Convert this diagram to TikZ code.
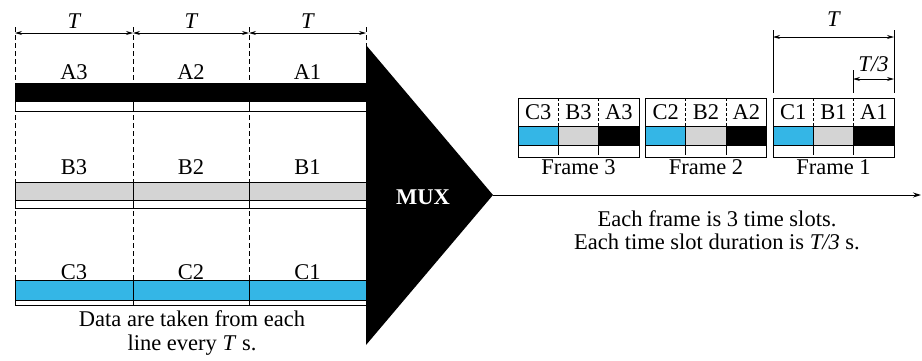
\documentclass[tikz,border=0pt]{standalone}
\usepackage{fontspec}
\setmainfont{Liberation Serif}
\usetikzlibrary{arrows.meta}
\definecolor{cyanbar}{RGB}{52,182,230}
\definecolor{greybar}{RGB}{212,212,212}
\begin{document}
\begin{tikzpicture}[x=1pt,y=-1pt,
  txt/.style={font=\fontsize{22.5}{23.5}\selectfont, inner sep=0pt},
  itx/.style={font=\fontsize{22.5}{23.5}\selectfont\itshape, inner sep=0pt},
  dimarrow/.style={{Stealth[length=7pt,width=4pt]}-{Stealth[length=7pt,width=4pt]}, line width=0.8pt},
  vdash/.style={dash pattern=on 5pt off 3pt, line width=0.9pt},
  sdash/.style={dash pattern=on 3pt off 2pt, line width=0.8pt},
  outline/.style={line width=1pt}]
\useasboundingbox (0,0) rectangle (922,360);

% ---------- input lines ----------
\foreach \n/\x in {0/15, 1/133, 2/249, 3/366} {
  \coordinate (c\n t) at (\x,27);
  \coordinate (c\n a) at (\x,33);
  \coordinate (c\n b) at (\x,305);
}
\foreach \n in {0,1,2,3} \draw[vdash] (c\n t) -- (c\n b);
\foreach \a/\b in {0/1, 1/2, 2/3} \draw[dimarrow] (c\a a) -- (c\b a);
\node[itx] (t1) at (74,21) {T};
\node[itx] (t2) at (191,21) {T};
\node[itx] (t3) at (307.5,21) {T};

% A line
\fill[white] (15,83) rectangle (366,111);
\fill[black] (15,83) rectangle (366,102);
\draw[outline] (15,83) rectangle (366,111);
% B line
\fill[white] (15,182) rectangle (366,208);
\draw[outline, fill=greybar] (15,182) rectangle (366,200);
\draw[outline] (15,182) rectangle (366,208);
% C line
\fill[white] (15,280) rectangle (366,305);
\draw[outline, fill=cyanbar] (15,280) rectangle (366,300);
\draw[outline] (15,280) rectangle (366,305);
\foreach \x in {133,249} {
  \draw[outline] (\x,83) -- (\x,111);
  \draw[outline] (\x,182) -- (\x,208);
  \draw[outline] (\x,280) -- (\x,305);
}

\foreach \r/\y in {A/72, B/167, C/272} {
  \node[txt] (\r3) at (74,\y) {\r3};
  \node[txt] (\r2) at (191,\y) {\r2};
  \node[txt] (\r1) at (307.5,\y) {\r1};
}

\node[txt, align=center] (datacap) at (192,333) {Data are taken from each\\line every \textit{T} s.};

% ---------- MUX ----------
\coordinate (mtop) at (366,45);
\coordinate (apex) at (493,195);
\coordinate (mbot) at (366,345);
\fill[black] (mtop) -- (apex) -- (mbot) -- cycle;
\node[txt, font=\fontsize{22.5}{24}\selectfont\bfseries, text=white] (mux) at (423,197) {MUX};

% ---------- output ----------
\coordinate (outend) at (921,195);
\draw[line width=1pt, -{Stealth[length=8pt,width=5pt]}] (apex) -- (outend);

\foreach \i/\x in {3/518, 2/645.5, 1/773} {
  \begin{scope}[shift={(\x,0)}]
    \fill[white] (0,98) rectangle (121,157);
    \fill[cyanbar] (0,126) rectangle (40.33,145);
    \fill[greybar] (40.33,126) rectangle (80.67,145);
    \fill[black] (80.67,126) rectangle (121,145);
    \draw[outline] (0,126) -- (121,126);
    \draw[outline] (0,145) -- (121,145);
    \draw[outline] (0,98) rectangle (121,157);
    \foreach \s in {40.33,80.67} {
      \draw[sdash] (\s,98) -- (\s,126);
      \draw[outline] (\s,126) -- (\s,155);
    }
    \node[txt] (fc\i) at (20.17,112) {C\i};
    \node[txt] (fb\i) at (60.5,112) {B\i};
    \node[txt] (fa\i) at (100.83,112) {A\i};
    \node[txt] (frame\i) at (60.5,167) {Frame \i};
  \end{scope}
}

% T and T/3 dimensions
\coordinate (d1t) at (773,30); \coordinate (d1b) at (773,93);
\coordinate (d2t) at (894,30); \coordinate (d2b) at (894,93);
\coordinate (d3t) at (853,70); \coordinate (d3b) at (853,93);
\draw[line width=0.9pt] (d1t) -- (d1b) (d2t) -- (d2b) (d3t) -- (d3b);
\coordinate (ta) at (773,37); \coordinate (tb) at (894,37);
\draw[dimarrow] (ta) -- (tb);
\coordinate (sa) at (853,79); \coordinate (sb) at (894,79);
\draw[dimarrow] (sa) -- (sb);
\node[itx] (tT) at (833.5,19) {T};
\node[itx] (tT3) at (873.5,64) {T/3};

\node[txt, align=center] (framecap) at (717,230) {Each frame is 3 time slots.\\Each time slot duration is \textit{T/3} s.};
\end{tikzpicture}
\end{document}
